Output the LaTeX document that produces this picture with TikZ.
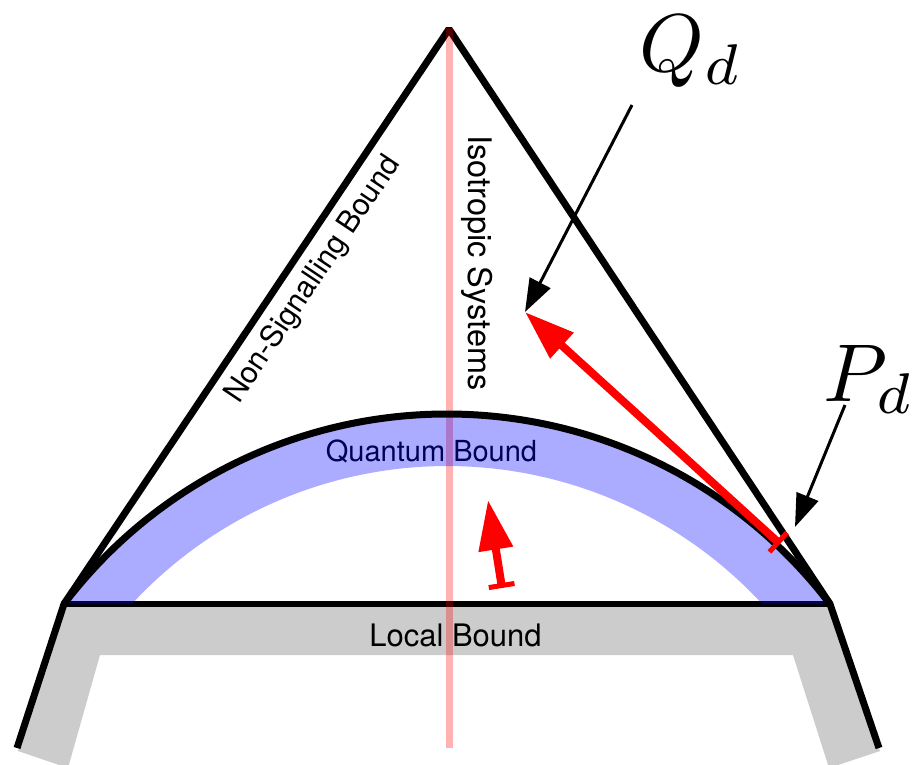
\documentclass[tikz,border=0pt]{standalone}
\usepackage{fontspec}
\newfontfamily\hel{TeX Gyre Heros}
\usetikzlibrary{arrows.meta}
\begin{document}
\begin{tikzpicture}[x=1pt,y=-1pt,
  lbl/.style={font=\hel\fontsize{31}{36}\selectfont, inner sep=0pt},
  edgeline/.style={black, line width=7pt, line join=bevel},
  redarrow/.style={red, line width=8pt, arrows={Bar[width=26pt,line width=5pt]-Triangle[length=50pt,width=33pt]}},
  blkarrow/.style={black, line width=3pt, arrows={-Triangle[length=33pt,width=23pt]}},
  mathlbl/.style={scale=8.2, inner sep=0pt, anchor=base}]
\useasboundingbox (0,0) rectangle (914,765);
\clip (0,0) rectangle (914,765);
% coordinates
\coordinate (apex) at (449,29);
\coordinate (bl) at (64,604);
\coordinate (br) at (830,604);
\coordinate (lbot) at (17,748);
\coordinate (rbot) at (879,748);
\coordinate (pinkTop) at (449,28);
\coordinate (pinkBot) at (449,748);
\coordinate (innerR) at (762.2,604);
\coordinate (Qpt) at (525,312);
\coordinate (Ppt) at (780,544);
\coordinate (qA) at (632,105);
\coordinate (pA) at (845,405);
\coordinate (pB) at (795,527);
\coordinate (sA) at (502,588);
\coordinate (sB) at (488,500);
% local bound band
\fill[black!20] (64,604) -- (830,604) -- (880,751) -- (829,768) -- (793,655) -- (100,655) -- (68,768) -- (18,751) -- cycle;
\draw[line width=5.5pt] (bl) -- (br);
\draw[edgeline] (lbot) -- (bl) -- (apex) -- (br) -- (rbot);
% texts
\node[lbl, anchor=base] (localtxt) at (455.5,646) {Local Bound};
\node[lbl, font=\hel\fontsize{29}{34}\selectfont, anchor=base] (quanttxt) at (431.5,461) {Quantum Bound};
\node[lbl, font=\hel\fontsize{32.5}{36}\selectfont, rotate=-90, anchor=base] (isotxt) at (468,263) {Isotropic Systems};
\node[lbl, font=\hel\fontsize{30}{36}\selectfont, rotate=56.24, anchor=base] (nstxt) at (320,284) {Non-Signalling Bound};
% isotropic line
\draw[red, opacity=0.3, line width=7pt] (pinkTop) -- (pinkBot);
% quantum band
\fill[blue, fill opacity=0.33] (bl) arc[start angle=-142.77, end angle=-37.23, radius=481] -- (innerR) arc[start angle=-42.72, end angle=-137.28, radius=429] -- cycle;
\draw[line width=7pt] (bl) arc[start angle=-142.77, end angle=-37.23, radius=481];
% labels
\node[mathlbl] (Qd) at (691,72) {$Q_d$};
\node[mathlbl] (Pd) at (869,401) {$P_d$};
% arrows
\draw[redarrow] (Ppt) -- (Qpt);
\draw[redarrow] (sA) -- (sB);
\draw[blkarrow] (qA) -- (Qpt);
\draw[blkarrow] (pA) -- (pB);
\end{tikzpicture}
\end{document}
